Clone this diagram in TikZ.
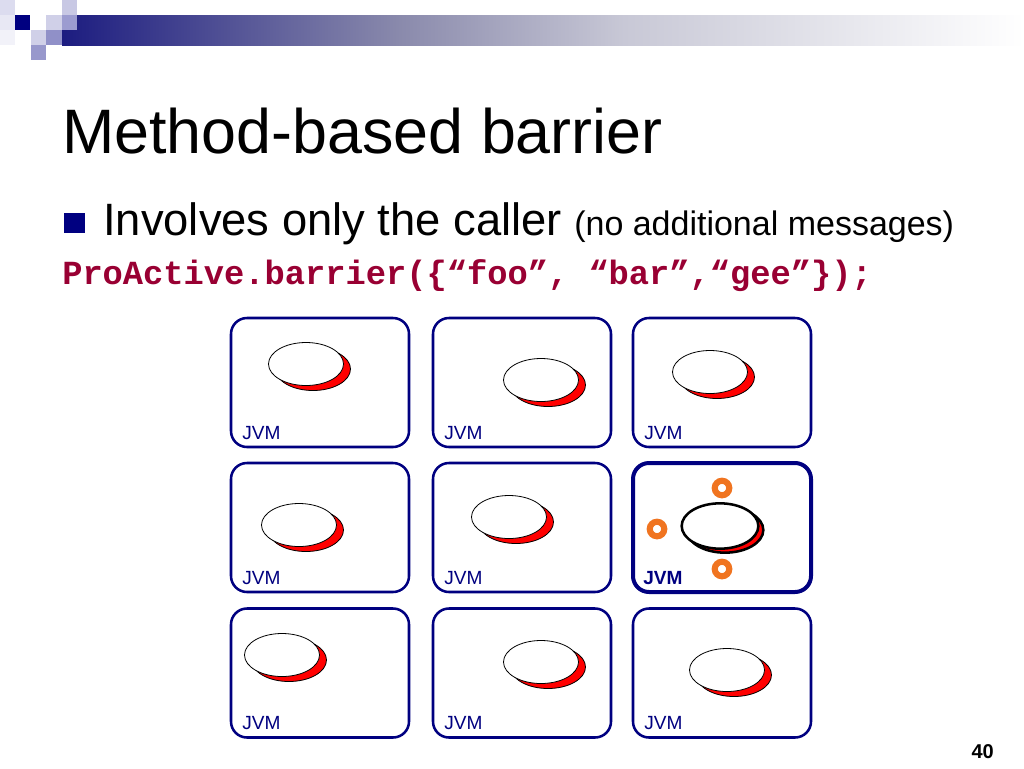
\documentclass[tikz,border=0pt]{standalone}
\usepackage{fontspec}
\setmainfont{Liberation Sans}
\setmonofont{Liberation Mono}
\usetikzlibrary{shapes.geometric}
\definecolor{navy}{RGB}{0,0,128}
\definecolor{codered}{RGB}{153,0,51}
\definecolor{ringor}{RGB}{240,116,32}
\definecolor{barA}{RGB}{28,28,128}
\definecolor{barB}{RGB}{138,138,172}
\definecolor{barC}{RGB}{200,200,214}
\begin{document}
\begin{tikzpicture}[x=0.75pt,y=-0.75pt,
  jvmbox/.style={draw=navy, line width=1.9pt, rounded corners=12pt, minimum width=133.5pt, minimum height=96.75pt, inner sep=0pt},
  hibox/.style={jvmbox, line width=3pt},
  jvmlabel/.style={anchor=base west, inner sep=0pt, text=navy, font=\fontsize{14.3}{16}\selectfont},
  proc/.style={ellipse, draw=black, line width=0.6pt, fill=white, minimum width=56.25pt, minimum height=32.25pt, inner sep=0pt},
  procshadow/.style={proc, fill=red},
  hiproc/.style={proc, line width=1.9pt, minimum width=57.5pt, minimum height=34pt},
  hishadow/.style={hiproc, fill=red},
  ring/.style={circle, draw=ringor, line width=4.6pt, minimum size=10.9pt, inner sep=0pt},
  deco/.style={draw=none},
  txt/.style={anchor=base west, inner sep=0pt},
]
\useasboundingbox (0,0) rectangle (1024,768);
\fill[white] (0,0) rectangle (1024,768);
% header decoration
\shade[left color=barA, right color=barB] (62,15) rectangle (400,45);
\shade[left color=barB, right color=barC] (400,15) rectangle (624,45);
\shade[left color=barC, right color=white] (624,15) rectangle (1024,45);
\fill[deco, color={rgb,255:red,220;green,220;blue,239}] (0,0) rectangle (15,15);
\fill[deco, color={rgb,255:red,232;green,232;blue,244}] (0,15) rectangle (15,30);
\fill[deco, color={rgb,255:red,242;green,242;blue,249}] (0,30) rectangle (15,45);
\fill[deco, color=navy] (15,15) rectangle (30,30);
\fill[deco, color={rgb,255:red,208;green,208;blue,232}] (46,15) rectangle (62,30);
\fill[deco, color={rgb,255:red,200;green,200;blue,228}] (62,0) rectangle (77,15);
\fill[deco, color={rgb,255:red,156;green,156;blue,208}] (62,15) rectangle (77,30);
\fill[deco, color={rgb,255:red,208;green,208;blue,232}] (31,30) rectangle (46,45);
\fill[deco, color={rgb,255:red,144;green,144;blue,200}] (46,30) rectangle (62,45);
\fill[deco, color={rgb,255:red,152;green,152;blue,204}] (31,45) rectangle (46,60);
% title and text
\node[txt, font=\fontsize{47.1}{50}\selectfont] (title) at (62,153) {Method-based barrier};
\fill[navy] (64,213) rectangle (85,233);
\node[txt, font=\fontsize{34}{38}\selectfont] (bullet) at (103,235) {Involves only the caller};
\node[txt, font=\fontsize{25.5}{28}\selectfont] (paren) at (574,235) {(no additional messages)};
\node[txt, text=codered, font=\ttfamily\bfseries\fontsize{25.3}{28}\selectfont] (code) at (62,284) {ProActive.barrier(\{“foo”,\ “bar”,“gee”\});};
% boxes
\node[jvmbox] (b11) at (320,382.5) {};
\node[jvmbox] (b12) at (522,382.5) {};
\node[jvmbox] (b13) at (722,382.5) {};
\node[jvmbox] (b21) at (320,527.5) {};
\node[jvmbox] (b22) at (522,527.5) {};
\node[hibox]  (b23) at (722,527.5) {};
\node[jvmbox] (b31) at (320,673) {};
\node[jvmbox] (b32) at (522,673) {};
\node[jvmbox] (b33) at (722,673) {};
% labels
\node[jvmlabel] (l11) at (242,439) {JVM};
\node[jvmlabel] (l12) at (444,439) {JVM};
\node[jvmlabel] (l13) at (644,439) {JVM};
\node[jvmlabel] (l21) at (242,584) {JVM};
\node[jvmlabel] (l22) at (444,584) {JVM};
\node[jvmlabel, font=\bfseries\fontsize{14.3}{16}\selectfont] (l23) at (643,584) {JVM};
\node[jvmlabel] (l31) at (242,729) {JVM};
\node[jvmlabel] (l32) at (444,729) {JVM};
\node[jvmlabel] (l33) at (644,729) {JVM};
% processes
\node[procshadow] (s11) at (313,369) {};
\node[proc] (p11) at (306,364) {};
\node[procshadow] (s12) at (548,385) {};
\node[proc] (p12) at (541,380) {};
\node[procshadow] (s13) at (717,377) {};
\node[proc] (p13) at (710,372) {};
\node[procshadow] (s21) at (306,530) {};
\node[proc] (p21) at (299,525) {};
\node[procshadow] (s22) at (516,522) {};
\node[proc] (p22) at (509,517) {};
\node[hishadow] (s23) at (725,530) {};
\node[hiproc] (p23) at (720,526) {};
\node[procshadow] (s31) at (289,660) {};
\node[proc] (p31) at (282,655) {};
\node[procshadow] (s32) at (548,667) {};
\node[proc] (p32) at (541,662) {};
\node[procshadow] (s33) at (734,675) {};
\node[proc] (p33) at (727,670) {};
% rings
\node[ring] (r1) at (722,488) {};
\node[ring] (r2) at (657,529) {};
\node[ring] (r3) at (722,569) {};
% page number
\node[anchor=base east, inner sep=0pt, font=\bfseries\fontsize{15}{17}\selectfont] (page) at (994,758) {40};
\end{tikzpicture}
\end{document}
